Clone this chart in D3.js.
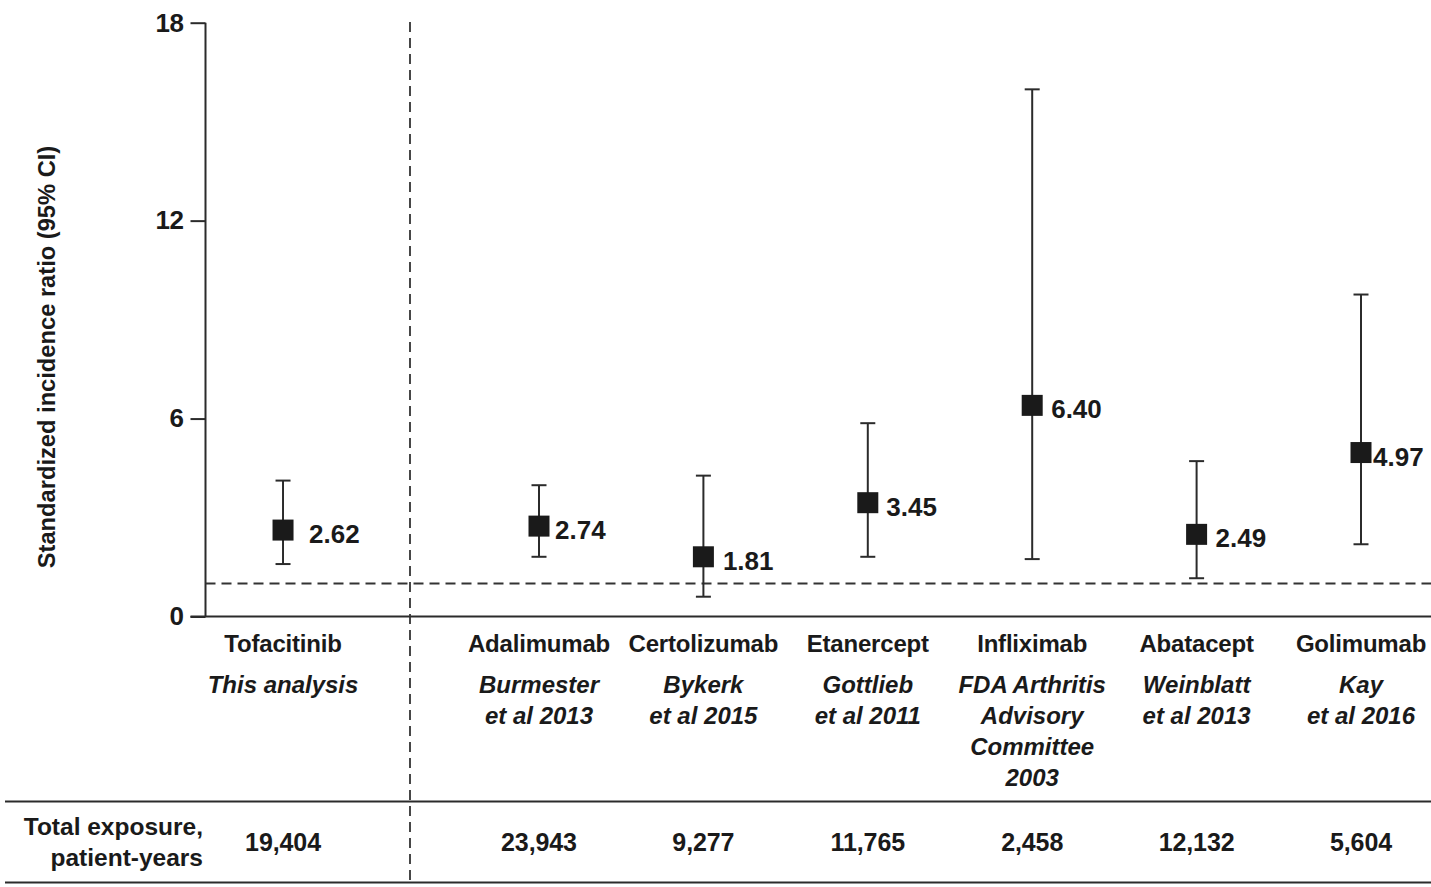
<!DOCTYPE html>
<html>
<head>
<meta charset="utf-8">
<script src="https://cdn.jsdelivr.net/npm/d3@7"></script>
<style>
  html, body { margin: 0; padding: 0; background: #fff; }
  svg { display: block; font-family: "Liberation Sans", Arial, Helvetica, sans-serif; }
</style>
</head>
<body>
<svg id="chart" width="1431" height="887"></svg>
<script>
// Standardized incidence ratios (95% CI) by agent
const agents = ["Tofacitinib", "Adalimumab", "Certolizumab", "Etanercept", "Infliximab", "Abatacept", "Golimumab"];
const sources = [
  ["This analysis"],
  ["Burmester", "et al 2013"],
  ["Bykerk", "et al 2015"],
  ["Gottlieb", "et al 2011"],
  ["FDA Arthritis", "Advisory", "Committee", "2003"],
  ["Weinblatt", "et al 2013"],
  ["Kay", "et al 2016"]
];
const sir = [2.62, 2.74, 1.81, 3.45, 6.40, 2.49, 4.97];
const ciLower = [1.59, 1.81, 0.60, 1.81, 1.74, 1.16, 2.19];
const ciUpper = [4.12, 3.98, 4.27, 5.86, 15.98, 4.71, 9.76];
const exposure = ["19,404", "23,943", "9,277", "11,765", "2,458", "12,132", "5,604"];
const yTicks = [0, 6, 12, 18];
const referenceSIR = 1;

// Layout
const W = 1431, H = 887;
const axisX = 205.5;
const ink = "#1a1a1a";
const lineInk = "#2b2b2b";
// slot index per agent: the first (reference) agent sits in its own panel
const slots = [-1.557, 0, 1, 2, 3, 4, 5];
const labelDx = [26, 16, 19.5, 18.5, 19, 19, 12];

const svg = d3.select("#chart");

const y = d3.scaleLinear().domain([0, 18]).range([616.5, 22.7]);
const x = d3.scaleLinear().domain([0, 5]).range([539, 1361]);

// y axis
const yAxis = d3.axisLeft(y).tickValues(yTicks).tickSize(15).tickPadding(7).tickFormat(d3.format("d"));
const gy = svg.append("g").attr("transform", `translate(${axisX},0)`).call(yAxis);
gy.select(".domain").attr("d", `M0,${y(18)}V${y(0)}`).attr("stroke", lineInk).attr("stroke-width", 2);
gy.selectAll(".tick line").attr("stroke", lineInk).attr("stroke-width", 2);
gy.selectAll(".tick text")
  .attr("fill", ink).attr("font-size", 26).attr("font-weight", "bold")
  .attr("font-family", "'Liberation Sans', Arial, sans-serif").attr("letter-spacing", -0.5);

// baseline (x axis)
svg.append("line")
  .attr("x1", axisX - 15).attr("x2", W).attr("y1", y(0)).attr("y2", y(0))
  .attr("stroke", lineInk).attr("stroke-width", 2);

// y axis title
svg.append("text")
  .attr("transform", `translate(47,${357}) rotate(-90)`)
  .attr("text-anchor", "middle").attr("dominant-baseline", "central")
  .attr("font-size", 23.7).attr("font-weight", "bold").attr("fill", ink)
  .text("Standardized incidence ratio (95% CI)");

// reference line at SIR = 1
svg.append("line")
  .attr("x1", axisX).attr("x2", W).attr("y1", y(referenceSIR)).attr("y2", y(referenceSIR))
  .attr("stroke", "#333").attr("stroke-width", 1.8).attr("stroke-dasharray", "10,6");

// panel separator
svg.append("line")
  .attr("x1", 410).attr("x2", 410).attr("y1", 22).attr("y2", 883)
  .attr("stroke", "#333").attr("stroke-width", 1.8).attr("stroke-dasharray", "10,6");

// table rules
[801.5, 882.5].forEach(ry => {
  svg.append("line").attr("x1", 5).attr("x2", W).attr("y1", ry).attr("y2", ry)
    .attr("stroke", lineInk).attr("stroke-width", 2.2);
});

const data = agents.map((a, i) => ({
  agent: a, src: sources[i], v: sir[i], lo: ciLower[i], hi: ciUpper[i],
  exp: exposure[i], cx: x(slots[i]), dx: labelDx[i]
}));

const g = svg.append("g").selectAll("g").data(data).join("g");

// CI whiskers
g.append("line")
  .attr("x1", d => d.cx).attr("x2", d => d.cx)
  .attr("y1", d => y(d.lo)).attr("y2", d => y(d.hi))
  .attr("stroke", lineInk).attr("stroke-width", 2);
["lo", "hi"].forEach(k => {
  g.append("line")
    .attr("x1", d => d.cx - 7.5).attr("x2", d => d.cx + 7.5)
    .attr("y1", d => y(d[k])).attr("y2", d => y(d[k]))
    .attr("stroke", lineInk).attr("stroke-width", 2);
});

// point estimates
const sq = 21;
g.append("rect")
  .attr("x", d => d.cx - sq / 2).attr("y", d => y(d.v) - sq / 2)
  .attr("width", sq).attr("height", sq).attr("fill", "#1a1a1a");

// value labels
g.append("text")
  .attr("x", d => d.cx + d.dx).attr("y", d => y(d.v) + 4)
  .attr("dominant-baseline", "central")
  .attr("font-size", 26).attr("font-weight", "bold").attr("fill", ink).attr("letter-spacing", 0)
  .text(d => d3.format(".2f")(d.v));

// agent names
g.append("text")
  .attr("x", d => d.cx).attr("y", 643)
  .attr("text-anchor", "middle").attr("dominant-baseline", "central")
  .attr("font-size", 24).attr("font-weight", "bold").attr("fill", ink).attr("letter-spacing", -0.2)
  .text(d => d.agent);

// source citations
g.each(function(d) {
  d3.select(this).selectAll("text.src").data(d.src).join("text")
    .attr("class", "src")
    .attr("x", d.cx).attr("y", (s, j) => 684 + j * 31)
    .attr("text-anchor", "middle").attr("dominant-baseline", "central")
    .attr("font-size", 24).attr("font-weight", "bold").attr("font-style", "italic")
    .attr("fill", ink).attr("letter-spacing", 0)
    .text(s => s);
});

// exposure row
g.append("text")
  .attr("x", d => d.cx).attr("y", 842)
  .attr("text-anchor", "middle").attr("dominant-baseline", "central")
  .attr("font-size", 25).attr("font-weight", "bold").attr("fill", ink).attr("letter-spacing", -0.1)
  .text(d => d.exp);

svg.append("text")
  .attr("text-anchor", "end").attr("font-size", 24.5).attr("font-weight", "bold").attr("fill", ink)
  .attr("letter-spacing", 0)
  .selectAll("tspan").data(["Total exposure,", "patient-years"]).join("tspan")
  .attr("x", 203).attr("y", (t, j) => 835 + j * 31)
  .text(t => t);
</script>
</body>
</html>
